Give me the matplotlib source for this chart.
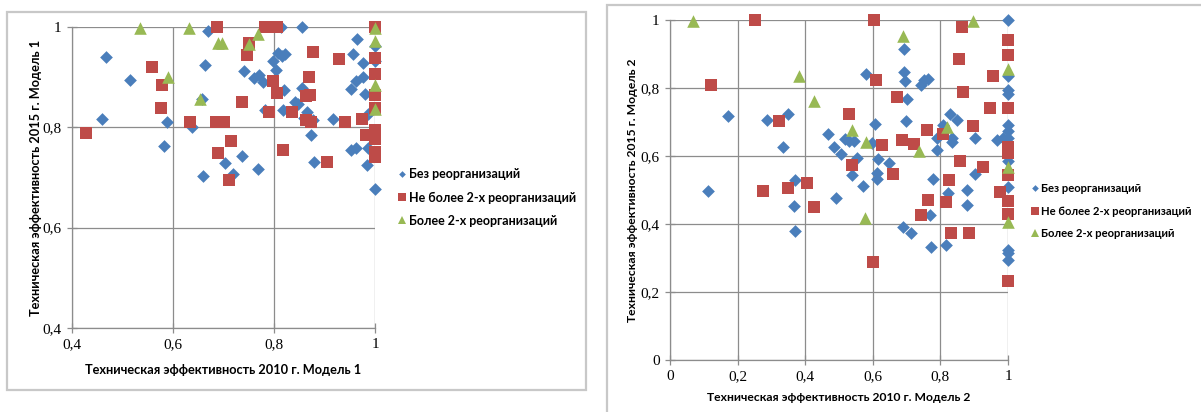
import matplotlib
matplotlib.use("Agg")
import matplotlib.pyplot as plt
from matplotlib.patches import Rectangle
from matplotlib.lines import Line2D

# ---------------- data: panel 1 (Model 1) ----------------
m1_blue_x = [0.467, 0.515, 0.459, 0.589, 0.583, 0.638, 0.670, 0.664, 0.657, 0.659,
             0.702, 0.719, 0.737, 0.740, 0.760, 0.770, 0.778, 0.782, 0.768, 0.799,
             0.803, 0.807, 0.815, 0.821, 0.819, 0.817, 0.813, 0.855, 0.855, 0.841,
             0.847, 0.865, 0.859, 0.877, 0.874, 0.879, 0.916, 0.953, 0.962, 0.956,
             0.965, 0.977, 0.962, 0.977, 0.953, 0.981, 0.986, 0.985, 1.0, 1.0,
             1.0, 0.986]
m1_blue_y = [0.940, 0.895, 0.816, 0.811, 0.763, 0.801, 0.993, 0.925, 0.856, 0.702,
             0.728, 0.706, 0.742, 0.912, 0.899, 0.904, 0.890, 0.834, 0.716, 0.933,
             0.914, 0.949, 0.942, 0.947, 0.874, 0.835, 1.0, 1.0, 0.879, 0.851,
             0.846, 0.831, 0.819, 0.814, 0.784, 0.731, 0.816, 0.754, 0.759, 0.946,
             0.977, 0.929, 0.892, 0.900, 0.877, 0.866, 0.827, 0.724, 0.678, 0.963,
             0.933, 0.759]

m1_red_x = [0.428, 0.559, 0.579, 0.576, 0.634, 0.687, 0.685, 0.701, 0.689, 0.714,
            0.711, 0.737, 0.747, 0.750, 0.782, 0.795, 0.805, 0.798, 0.806, 0.790,
            0.818, 0.836, 0.869, 0.863, 0.872, 0.877, 0.863, 0.874, 0.904, 0.928,
            0.941, 0.975, 0.983, 1.0, 1.0, 1.0, 1.0, 1.0, 1.0, 1.0,
            1.0, 1.0, 1.0]
m1_red_y = [0.789, 0.920, 0.885, 0.839, 0.810, 1.0, 0.811, 0.811, 0.748, 0.772,
            0.696, 0.851, 0.944, 0.968, 1.0, 1.0, 1.0, 0.892, 0.869, 0.831,
            0.754, 0.831, 0.900, 0.862, 0.865, 0.951, 0.815, 0.810, 0.730, 0.936,
            0.811, 0.816, 0.784, 1.0, 0.939, 0.907, 0.864, 0.839, 0.795, 0.784,
            0.777, 0.751, 0.741]

m1_green_x = [0.534, 0.632, 0.590, 0.653, 0.689, 0.698, 0.750, 0.768, 1.0, 1.0, 1.0, 1.0]
m1_green_y = [0.999, 0.999, 0.900, 0.857, 0.968, 0.968, 0.967, 0.987, 0.999, 0.973, 0.884, 0.837]

# ---------------- data: panel 2 (Model 2) ----------------
m2_blue_x = [0.111, 0.173, 0.286, 0.348, 0.335, 0.370, 0.366, 0.370, 0.468, 0.486,
             0.506, 0.518, 0.531, 0.544, 0.552, 0.539, 0.572, 0.579, 0.597, 0.607,
             0.614, 0.611, 0.611, 0.648, 0.490, 0.693, 0.692, 0.695, 0.700, 0.697,
             0.743, 0.750, 0.763, 0.777, 0.789, 0.789, 0.809, 0.828, 0.833, 0.835,
             0.823, 0.850, 0.878, 0.880, 0.902, 0.902, 0.966, 0.986, 0.688, 0.712,
             0.771, 0.816, 0.769, 1.0, 1.0, 1.0, 1.0, 1.0, 1.0, 1.0,
             1.0, 1.0, 1.0, 1.0, 1.0]
m2_blue_y = [0.496, 0.717, 0.707, 0.725, 0.627, 0.528, 0.453, 0.380, 0.664, 0.627,
             0.607, 0.651, 0.644, 0.644, 0.595, 0.545, 0.511, 0.841, 0.638, 0.693,
             0.592, 0.550, 0.531, 0.579, 0.476, 0.916, 0.848, 0.820, 0.767, 0.702,
             0.808, 0.823, 0.826, 0.533, 0.654, 0.617, 0.690, 0.725, 0.653, 0.641,
             0.491, 0.705, 0.501, 0.457, 0.653, 0.548, 0.648, 0.654, 0.390, 0.373,
             0.333, 0.338, 0.426, 1.0, 0.835, 0.794, 0.781, 0.692, 0.673, 0.653,
             0.585, 0.508, 0.325, 0.316, 0.294]

m2_red_x = [0.250, 0.121, 0.276, 0.323, 0.350, 0.404, 0.427, 0.531, 0.538, 0.605,
            0.608, 0.626, 0.659, 0.671, 0.687, 0.722, 0.759, 0.764, 0.809, 0.817,
            0.826, 0.856, 0.863, 0.868, 0.858, 0.897, 0.927, 0.957, 0.947, 0.976,
            0.742, 0.831, 0.886, 0.602, 1.0, 1.0, 1.0, 1.0, 1.0, 1.0,
            1.0, 1.0, 1.0]
m2_red_y = [1.0, 0.808, 0.497, 0.703, 0.507, 0.520, 0.450, 0.723, 0.575, 1.0,
            0.825, 0.631, 0.548, 0.774, 0.646, 0.636, 0.676, 0.471, 0.666, 0.465,
            0.528, 0.886, 0.978, 0.789, 0.584, 0.687, 0.568, 0.835, 0.740, 0.494,
            0.426, 0.373, 0.373, 0.289, 0.942, 0.897, 0.740, 0.627, 0.608, 0.545,
            0.469, 0.430, 0.232]

m2_green_x = [0.067, 0.383, 0.427, 0.537, 0.580, 0.688, 0.738, 0.819, 0.895, 1.0, 1.0, 0.577, 1.0]
m2_green_y = [0.997, 0.835, 0.761, 0.676, 0.641, 0.954, 0.615, 0.686, 0.998, 0.857, 0.567, 0.418, 0.407]

series_names = ["Без реорганизаций", "Не более 2-х реорганизаций", "Более 2-х реорганизаций"]
xlabels = ["Техническая эффективность 2010 г. Модель 1", "Техническая эффективность 2010 г. Модель 2"]
ylabels = ["Техническая эффективность 2015 г. Модель 1", "Техническая эффективность 2015 г. Модель 2"]
tick_vals_1 = [0.4, 0.6, 0.8, 1.0]
tick_lab_1 = ["0,4", "0,6", "0,8", "1"]
tick_vals_2 = [0, 0.2, 0.4, 0.6, 0.8, 1.0]
tick_lab_2 = ["0", "0,2", "0,4", "0,6", "0,8", "1"]

BLUE = "#4A7EBB"
RED = "#BE4B48"
GREEN = "#98B954"

W, H = 1201, 412
fig = plt.figure(figsize=(W / 100, H / 100), dpi=100)
fig.patch.set_facecolor("white")

# chart frames
fig.patches.append(Rectangle((7 / W, 1 - 390 / H), (586 - 7) / W, (390 - 12) / H,
                             transform=fig.transFigure, fill=False,
                             edgecolor="#c8c8c8", linewidth=1.6))
fig.patches.append(Rectangle((607 / W, -0.05), (W + 20 - 607) / W, 1.05 - 5 / H,
                             transform=fig.transFigure, fill=False,
                             edgecolor="#c8c8c8", linewidth=1.6))

ax1 = fig.add_axes([72 / W, 1 - 328 / H, (375 - 72) / W, (328 - 27) / H])
ax2 = fig.add_axes([670 / W, 1 - 360 / H, (1008 - 670) / W, (360 - 20) / H])

tick_font = dict(family="Liberation Serif", size=11)


def style(ax, lim, ticks, labels, xl, yl, lsize, xpad, ypad):
    label_font = dict(family="Lato", weight="bold", size=lsize)
    ax.set_xlim(lim)
    ax.set_ylim(lim)
    ax.set_xticks(ticks)
    ax.set_yticks(ticks)
    ax.set_xticklabels(labels, fontdict=tick_font)
    ax.set_yticklabels(labels, fontdict=tick_font)
    ax.grid(True, color="#8c8c8c", linewidth=0.9)
    ax.set_axisbelow(True)
    for s in ["top", "right"]:
        ax.spines[s].set_visible(False)
    for s in ["left", "bottom"]:
        ax.spines[s].set_color("#8c8c8c")
        ax.spines[s].set_linewidth(0.9)
    ax.tick_params(axis="both", direction="inout", length=7, width=0.9,
                   color="#8c8c8c", pad=4)
    ax.set_xlabel(xl, fontdict=label_font, labelpad=xpad)
    ax.set_ylabel(yl, fontdict=label_font, labelpad=ypad)


def draw(ax, bx, by, rx, ry, gx, gy):
    ax.scatter(bx, by, marker="D", s=42, color=BLUE, linewidths=0, clip_on=False, zorder=3)
    ax.scatter(rx, ry, marker="s", s=78, color=RED, linewidths=0, clip_on=False, zorder=4)
    ax.scatter(gx, gy, marker="^", s=82, color=GREEN, linewidths=0, clip_on=False, zorder=5)


draw(ax1, m1_blue_x, m1_blue_y, m1_red_x, m1_red_y, m1_green_x, m1_green_y)
draw(ax2, m2_blue_x, m2_blue_y, m2_red_x, m2_red_y, m2_green_x, m2_green_y)
style(ax1, (0.4, 1.0), tick_vals_1, tick_lab_1, xlabels[0], ylabels[0], 9.2, 9, 0.5)
style(ax2, (0.0, 1.0), tick_vals_2, tick_lab_2, xlabels[1], ylabels[1], 8.7, 6, 2)

handles = [
    Line2D([], [], marker="D", linestyle="none", color=BLUE, markersize=3.4, markeredgewidth=0),
    Line2D([], [], marker="s", linestyle="none", color=RED, markersize=5.4, markeredgewidth=0),
    Line2D([], [], marker="^", linestyle="none", color=GREEN, markersize=5.8, markeredgewidth=0),
]
for (xa, ya, fs, sp) in [(398.5 / W, 1 - 168.5 / H, 9.0, 0.88), (1031.5 / W, 1 - 183 / H, 8.15, 1.02)]:
    fig.legend(handles, series_names, loc="upper left", bbox_to_anchor=(xa, ya),
               bbox_transform=fig.transFigure, frameon=False,
               prop=dict(family="Lato", weight="bold", size=fs),
               handlelength=0.6, handletextpad=0.25, labelspacing=sp,
               borderpad=0, borderaxespad=0)

fig.savefig("out.png", dpi=100, facecolor="white")
